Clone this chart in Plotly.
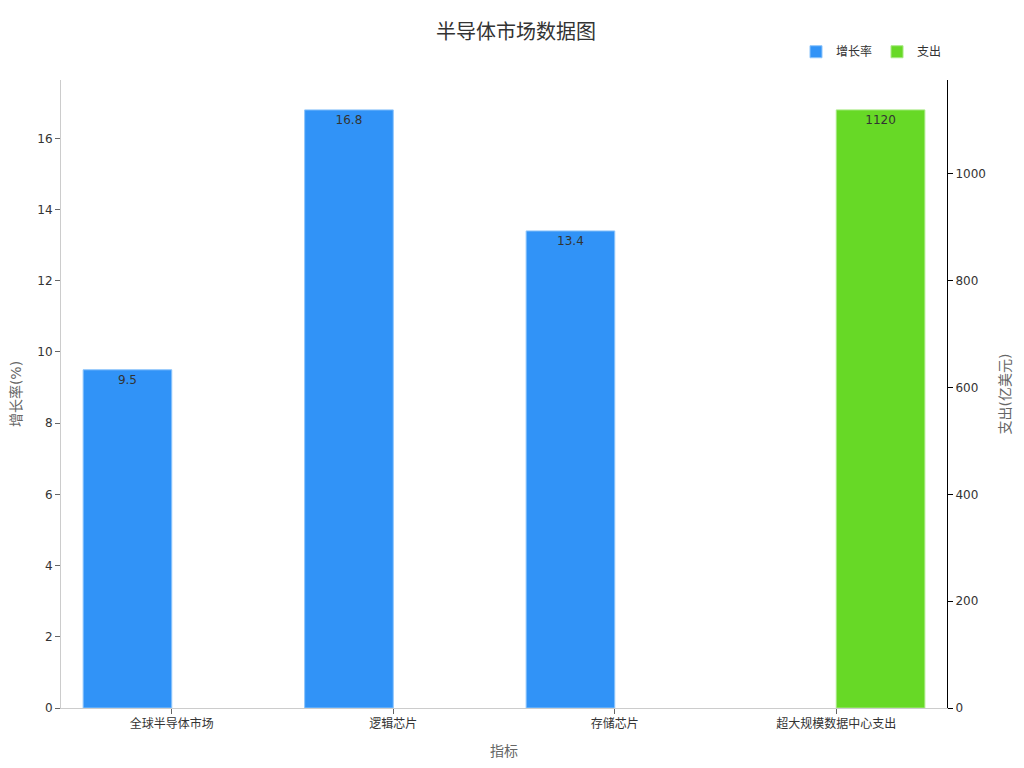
import plotly.graph_objects as go

categories = ['全球半导体市场', '逻辑芯片', '存储芯片', '超大规模数据中心支出']
growth = [9.5, 16.8, 13.4, None]
spend = [None, None, None, 1120]

font_family = 'DejaVu Sans, Noto Sans CJK SC, sans-serif'

fig = go.Figure()

fig.add_trace(go.Bar(
    name='增长率',
    x=categories,
    y=growth,
    yaxis='y',
    width=0.4,
    offset=-0.4,
    marker=dict(color='#3193F7', line=dict(color='#8CC4FB', width=1)),
    text=[v if v is not None else '' for v in growth],
    textposition='inside',
    insidetextanchor='end',
    textfont=dict(color='#333333', size=12),
))

fig.add_trace(go.Bar(
    name='支出',
    x=categories,
    y=spend,
    yaxis='y2',
    width=0.4,
    offset=0,
    marker=dict(color='#67D926', line=dict(color='#A8EA84', width=1)),
    text=[v if v is not None else '' for v in spend],
    textposition='inside',
    insidetextanchor='end',
    textfont=dict(color='#333333', size=12),
))

# page body has an 8px margin, so the figure is sized to fit the window
fig.update_layout(
    width=1016,
    height=760,
    paper_bgcolor='white',
    plot_bgcolor='white',
    font=dict(family=font_family, size=12, color='#333333'),
    title=dict(text='半导体市场数据图', x=0.5, xanchor='center', y=0.968, yanchor='middle',
               font=dict(size=20, color='#333333')),
    margin=dict(l=53, r=77, t=72, b=60),
    legend=dict(orientation='h', x=1.0, xanchor='right', y=1.045, yanchor='middle',
                font=dict(size=12), itemwidth=30, traceorder='normal'),
    xaxis=dict(
        title=dict(text='指标', font=dict(size=14, color='#666666')),
        showline=True, linecolor='#cccccc', linewidth=1,
        ticks='outside', tickcolor='#666666', ticklen=5,
        showgrid=False, automargin=False,
        tickfont=dict(size=12, color='#333333'),
    ),
    yaxis=dict(
        title=dict(text='增长率(%)', font=dict(size=14, color='#666666')),
        range=[0, 17.64],
        dtick=2,
        showline=True, linecolor='#cccccc', linewidth=1,
        ticks='outside', tickcolor='#666666', ticklen=5,
        showgrid=False, zeroline=False, automargin=False,
        tickfont=dict(size=12, color='#333333'),
    ),
    yaxis2=dict(
        title=dict(text='支出(亿美元)', font=dict(size=14, color='#666666')),
        overlaying='y',
        side='right',
        range=[0, 1176],
        dtick=200,
        showline=True, linecolor='#000000', linewidth=1,
        ticks='outside', tickcolor='#000000', ticklen=5,
        showgrid=False, zeroline=False, automargin=False,
        tickfont=dict(size=12, color='#333333'),
    ),
)

fig.write_html('out.html')
